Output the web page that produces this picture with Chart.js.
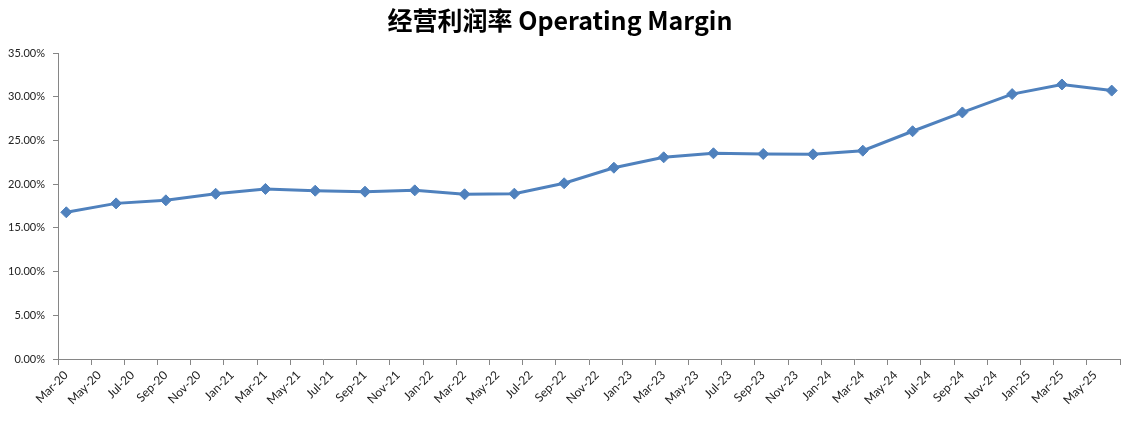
<!DOCTYPE html>
<html>
<head>
<meta charset="utf-8">
<script src="https://cdn.jsdelivr.net/npm/chart.js@4"></script>
<style>
    html, body { margin: 0; padding: 0; background: #fff; }
    #wrap { width: 1145px; height: 427px; }
</style>
</head>
<body>
<div id="wrap"><canvas id="marginChart"></canvas></div>
<script>
// axis labels every two months, Mar-20 .. May-25
const tickLabels = [
    'Mar-20', 'May-20', 'Jul-20', 'Sep-20', 'Nov-20',
    'Jan-21', 'Mar-21', 'May-21', 'Jul-21', 'Sep-21', 'Nov-21',
    'Jan-22', 'Mar-22', 'May-22', 'Jul-22', 'Sep-22', 'Nov-22',
    'Jan-23', 'Mar-23', 'May-23', 'Jul-23', 'Sep-23', 'Nov-23',
    'Jan-24', 'Mar-24', 'May-24', 'Jul-24', 'Sep-24', 'Nov-24',
    'Jan-25', 'Mar-25', 'May-25'
];

// quarterly observations
const quarters = [
    'Mar-20', 'Jun-20', 'Sep-20', 'Dec-20',
    'Mar-21', 'Jun-21', 'Sep-21', 'Dec-21',
    'Mar-22', 'Jun-22', 'Sep-22', 'Dec-22',
    'Mar-23', 'Jun-23', 'Sep-23', 'Dec-23',
    'Mar-24', 'Jun-24', 'Sep-24', 'Dec-24',
    'Mar-25', 'Jun-25'
];

// operating margin, %
const marginValues = [
    16.78, 17.80, 18.15, 18.90,
    19.45, 19.25, 19.14, 19.29,
    18.84, 18.91, 20.10, 21.88,
    23.07, 23.53, 23.45, 23.41,
    23.83, 26.05, 28.20, 30.30,
    31.40, 30.70
];

const MONTHS = ['Jan', 'Feb', 'Mar', 'Apr', 'May', 'Jun', 'Jul', 'Aug', 'Sep', 'Oct', 'Nov', 'Dec'];

// months since Mar-20, placed in the middle of the month slot
function monthSlot(label) {
    const m = MONTHS.indexOf(label.slice(0, 3));
    const y = 2000 + Number(label.slice(4));
    return (y - 2020) * 12 + m - 2 + 0.5;
}

const LINE_BLUE = '#4F81BD';
const AXIS_GRAY = '#868686';
const FONT = 'Lato, "Open Sans", sans-serif';

new Chart(document.getElementById('marginChart'), {
    type: 'line',
    data: {
        datasets: [{
            label: '经营利润率',
            data: quarters.map((q, i) => ({ x: monthSlot(q), y: marginValues[i] })),
            borderColor: LINE_BLUE,
            backgroundColor: LINE_BLUE,
            borderWidth: 3,
            tension: 0,
            pointStyle: 'rectRot',
            pointRadius: 5.5,
            pointBorderWidth: 1,
            pointBackgroundColor: LINE_BLUE,
            pointBorderColor: LINE_BLUE
        }]
    },
    options: {
        responsive: true,
        maintainAspectRatio: false,
        animation: false,
        layout: { padding: { left: 0, right: 25, top: 0, bottom: 0 } },
        plugins: {
            legend: { display: false },
            tooltip: { enabled: false },
            title: {
                display: true,
                text: '经营利润率 Operating Margin',
                color: '#000',
                font: { family: '"Noto Sans CJK SC", Lato, sans-serif', size: 25, weight: 'bold' },
                padding: { top: 5, bottom: 18 }
            }
        },
        scales: {
            x: {
                type: 'linear',
                min: 0,
                max: 64,
                border: { color: AXIS_GRAY, width: 1 },
                grid: {
                    drawOnChartArea: false,
                    drawTicks: true,
                    tickLength: 6,
                    color: AXIS_GRAY
                },
                ticks: {
                    stepSize: 2,
                    autoSkip: false,
                    maxRotation: 45,
                    minRotation: 45,
                    labelOffset: 8,
                    padding: 3,
                    color: '#222',
                    font: { family: FONT, size: 12 },
                    callback: v => tickLabels[v / 2] || ''
                },
                afterFit: axis => { axis.height = 68; }
            },
            y: {
                min: 0,
                max: 35,
                border: { color: AXIS_GRAY, width: 1 },
                grid: {
                    drawOnChartArea: false,
                    drawTicks: true,
                    tickLength: 5,
                    color: AXIS_GRAY
                },
                ticks: {
                    stepSize: 5,
                    padding: 8,
                    color: '#222',
                    font: { family: FONT, size: 11 },
                    callback: v => v.toFixed(2) + '%'
                },
                afterFit: axis => { axis.width = 58; }
            }
        }
    }
});
</script>
</body>
</html>
